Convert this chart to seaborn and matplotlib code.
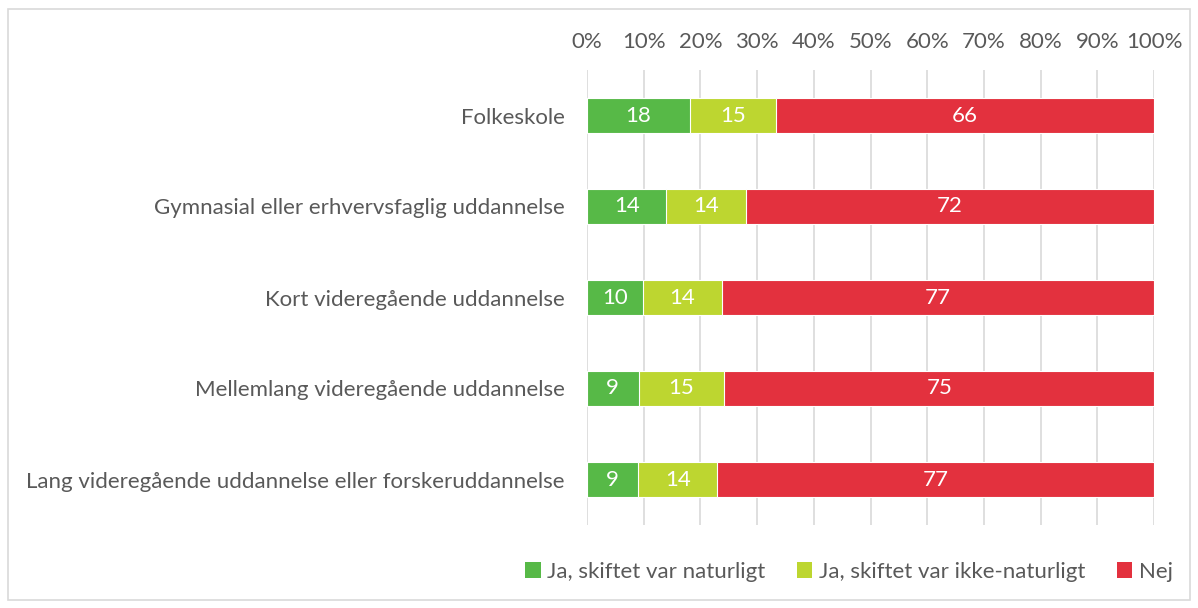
import matplotlib
matplotlib.use("Agg")
import matplotlib.pyplot as plt
from matplotlib.patches import Patch, Rectangle
import numpy as np
import pandas as pd
import seaborn as sns

# data
categories = [
    "Folkeskole",
    "Gymnasial eller erhvervsfaglig uddannelse",
    "Kort videregående uddannelse",
    "Mellemlang videregående uddannelse",
    "Lang videregående uddannelse eller forskeruddannelse",
]
ja_naturligt = [18, 14, 10, 9, 9]
ja_ikke_naturligt = [15, 14, 14, 15, 14]
nej = [66, 72, 77, 75, 77]

series_names = ["Ja, skiftet var naturligt", "Ja, skiftet var ikke-naturligt", "Nej"]
colors = ["#57B947", "#BDD630", "#E3313E"]
text_color = "#595959"
grid_color = "#D9D9D9"

sns.set_style("white")
plt.rcParams["font.family"] = ["Lato", "DejaVu Sans"]

# 100% stacked: normalise each row
values = np.array([ja_naturligt, ja_ikke_naturligt, nej], dtype=float)
shares = values / values.sum(axis=0) * 100
cum = np.cumsum(shares, axis=0)

fig = plt.figure(figsize=(11.98, 6.08), dpi=100)
ax = fig.add_axes([587 / 1198, 1 - 525 / 608, (1154 - 587) / 1198, (525 - 70) / 608])

# draw from the rightmost cumulative layer to the left so each one covers the rest
for i in reversed(range(3)):
    df = pd.DataFrame({"category": categories, "value": cum[i]})
    sns.barplot(data=df, x="value", y="category", orient="h", color=colors[i],
                saturation=1, width=0.375, edgecolor="white", linewidth=0.8,
                ax=ax, zorder=3)

# segment labels
for i in range(3):
    starts = cum[i] - shares[i]
    for j, cat in enumerate(categories):
        ax.text(starts[j] + shares[i][j] / 2, j, f"{values[i][j]:.0f}",
                ha="center", va="center", color="white", fontsize=16, zorder=5)

ax.set_xlim(0, 100)
ax.set_ylim(4.5, -0.5)
ax.set_xticks(range(0, 101, 10))
ax.set_xticklabels([f"{t}%" for t in range(0, 101, 10)])
ax.xaxis.tick_top()
ax.tick_params(axis="x", length=0, pad=13, labelsize=16, labelcolor=text_color)
ax.tick_params(axis="y", length=0, pad=16, labelsize=16, labelcolor=text_color)
ax.set_xlabel("")
ax.set_ylabel("")
ax.grid(axis="x", color=grid_color, linewidth=1.2, zorder=0)
ax.set_axisbelow(True)
for s in ax.spines.values():
    s.set_visible(False)

handles = [Patch(facecolor=c, edgecolor="none") for c in colors]
fig.legend(handles, series_names, loc="center", ncol=3,
           bbox_to_anchor=(849 / 1198, 1 - 572 / 608), frameon=False,
           fontsize=16, labelcolor=text_color, handlelength=0.7, handleheight=0.7,
           handletextpad=0.3, columnspacing=1.4)

# light chart border
fig.patches.append(Rectangle((8 / 1198, 8 / 608), 1182 / 1198, 591 / 608,
                             transform=fig.transFigure, fill=False,
                             edgecolor=grid_color, linewidth=1.2))

fig.savefig("out.png", dpi=100, facecolor="white")
